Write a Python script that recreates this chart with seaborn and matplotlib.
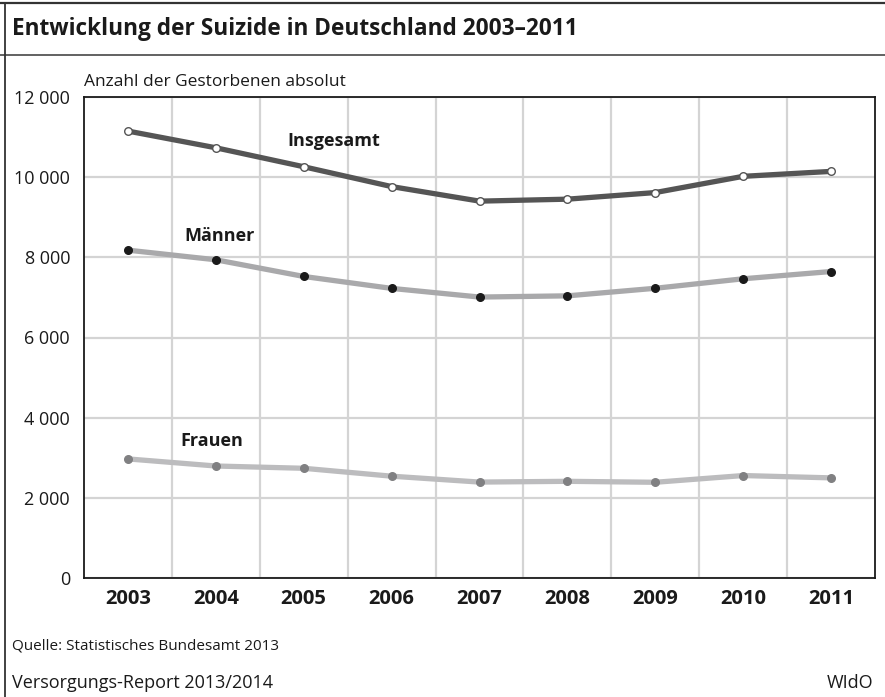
import numpy as np
import pandas as pd
import matplotlib
matplotlib.use("Agg")
import matplotlib.pyplot as plt
import seaborn as sns
from matplotlib.ticker import FixedLocator

years = [2003, 2004, 2005, 2006, 2007, 2008, 2009, 2010, 2011]
insgesamt = [11150, 10733, 10260, 9765, 9402, 9451, 9616, 10021, 10144]
maenner = [8179, 7939, 7523, 7225, 7009, 7039, 7228, 7465, 7646]
frauen = [2971, 2794, 2737, 2540, 2393, 2412, 2388, 2556, 2498]
y_ticks = [0, 2000, 4000, 6000, 8000, 10000, 12000]
y_tick_labels = ["0", "2 000", "4 000", "6 000", "8 000", "10 000", "12 000"]

sns.set_theme(style="white")
plt.rcParams['font.family'] = ['Open Sans', 'DejaVu Sans']

fig = plt.figure(figsize=(8.85, 6.97), dpi=100)
ax = fig.add_axes([84/885, (697-578)/697, (875-84)/885, (578-97)/697])

series = [
    ("Insgesamt", insgesamt, "#555555", "white", "#555555"),
    ("Männer", maenner, "#a9a9ab", "#1a1a1a", "#1a1a1a"),
    ("Frauen", frauen, "#bcbcbe", "#808082", "#808082"),
]
for name, vals, lc, mfc, mec in series:
    df = pd.DataFrame({"Jahr": years, "Wert": vals})
    sns.lineplot(data=df, x="Jahr", y="Wert", ax=ax, color=lc, linewidth=3.8,
                 solid_capstyle="butt", zorder=3)
    sns.scatterplot(data=df, x="Jahr", y="Wert", ax=ax, color=mfc, edgecolor=mec,
                    linewidth=1.0, s=30, zorder=4)

ax.set_xlim(2002.5, 2011.5)
ax.set_ylim(0, 12000)
ax.set_xticks(years)
ax.set_xticklabels([str(y) for y in years], fontweight="bold", fontsize=14.5, color="#1a1a1a")
ax.xaxis.set_minor_locator(FixedLocator([y + 0.5 for y in years[:-1]]))
ax.set_yticks(y_ticks)
ax.set_yticklabels(y_tick_labels, fontsize=13, color="#1a1a1a")
ax.tick_params(axis="both", which="both", length=0)
ax.tick_params(axis="x", pad=8)
ax.tick_params(axis="y", pad=10)
ax.grid(False)
ax.xaxis.grid(True, which="minor", color="#d4d4d4", linewidth=1.6)
ax.yaxis.grid(True, which="major", color="#d4d4d4", linewidth=1.6)
ax.set_axisbelow(True)
ax.set_xlabel("")
ax.set_ylabel("")
for s in ax.spines.values():
    s.set_visible(True)
    s.set_color("#1a1a1a")
    s.set_linewidth(1.3)

ax.text(2005.34, 10900, "Insgesamt", fontsize=13, fontweight="bold", ha="center", va="center", color="#1a1a1a")
ax.text(2004.04, 8530, "Männer", fontsize=13, fontweight="bold", ha="center", va="center", color="#1a1a1a")
ax.text(2003.95, 3420, "Frauen", fontsize=13, fontweight="bold", ha="center", va="center", color="#1a1a1a")

# Frame and title
fig.add_artist(plt.Line2D([0, 1], [1 - 3/697, 1 - 3/697], color="#333333", linewidth=1.6))
fig.add_artist(plt.Line2D([0, 1], [1 - 55/697, 1 - 55/697], color="#555555", linewidth=1.3))
fig.add_artist(plt.Line2D([5/885, 5/885], [0, 1 - 3/697], color="#333333", linewidth=1.3))
fig.text(12/885, 1 - 29/697, "Entwicklung der Suizide in Deutschland 2003–2011", fontsize=16.3,
         fontweight="bold", ha="left", va="center", color="#1a1a1a")
fig.text(84/885, 1 - 82/697, "Anzahl der Gestorbenen absolut", fontsize=12.5, ha="left", va="center", color="#1a1a1a")
fig.text(12/885, 1 - 646/697, "Quelle: Statistisches Bundesamt 2013", fontsize=11, ha="left", va="center", color="#1a1a1a")
fig.text(12/885, 1 - 683/697, "Versorgungs-Report 2013/2014", fontsize=13, ha="left", va="center", color="#1a1a1a")
fig.text(873/885, 1 - 683/697, "WIdO", fontsize=13, ha="right", va="center", color="#1a1a1a")

fig.savefig("out.png", dpi=100)
